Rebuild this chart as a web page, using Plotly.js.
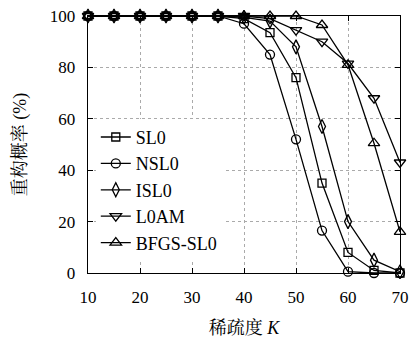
<!DOCTYPE html>
<html>
<head>
<meta charset="utf-8">
<script src="https://cdn.plot.ly/plotly-3.0.1.min.js"></script>
<style>html,body{margin:0;padding:0;background:#fff;}#chart{width:409px;height:338px;}</style>
</head>
<body>
<div id="chart"></div>
<script>
var sparsity = [10, 15, 20, 25, 30, 35, 40, 45, 50, 55, 60, 65, 70];
var sl0    = [100, 100, 100, 100, 100, 100, 99, 93.5, 76, 35, 8, 1, 0];
var nsl0   = [100, 100, 100, 100, 100, 100, 97, 85, 52, 16.5, 0.5, 0, 0];
var isl0   = [100, 100, 100, 100, 100, 100, 99.5, 98, 88, 57, 20, 5, 0.5];
var l0am   = [100, 100, 100, 100, 100, 100, 100, 99, 94.5, 90, 81.5, 68, 43];
var bfgs   = [100, 100, 100, 100, 100, 100, 100, 100, 100, 96.5, 81, 50.5, 16];
var seriesNames = ['SL0', 'NSL0', 'ISL0', 'L0AM', 'BFGS-SL0'];
var xTicks = [10, 20, 30, 40, 50, 60, 70];
var yTicks = [0, 20, 40, 60, 80, 100];

var serif = 'Liberation Serif, DejaVu Serif, Noto Serif CJK SC, Noto Sans CJK SC, serif';
var symbols = ['square-open', 'circle-open', 'diamond-tall-open', 'triangle-down-open', 'triangle-up-open'];
var sizes = [8, 9, 10, 10, 10];
var data = [sl0, nsl0, isl0, l0am, bfgs].map(function (ys, i) {
  return {
    x: sparsity, y: ys, name: seriesNames[i], type: 'scatter', mode: 'lines+markers',
    line: {color: '#000', width: 1.3},
    marker: {symbol: symbols[i], size: sizes[i], color: '#000', line: {color: '#000', width: 1.3}},
    cliponaxis: false
  };
});

var axisCommon = {
  showline: true, linecolor: '#000', linewidth: 1.3, mirror: 'ticks',
  ticks: 'inside', ticklen: 5, tickcolor: '#000', tickwidth: 1,
  showgrid: true, gridcolor: '#aaa', griddash: 'dot', gridwidth: 1,
  zeroline: false, tickfont: {family: serif, size: 17, color: '#000'}
};

var layout = {
  width: 409, height: 338,
  margin: {l: 88, r: 9, t: 16, b: 65},
  paper_bgcolor: '#fff', plot_bgcolor: '#fff',
  font: {family: serif, color: '#000'},
  xaxis: Object.assign({}, axisCommon, {
    range: [10, 70], tickvals: xTicks, ticktext: xTicks.map(String),
    ticklabelstandoff: 8,
    title: {text: '稀疏度 <i>K</i>', font: {family: serif, size: 18, color: '#000'}, standoff: 16}
  }),
  yaxis: Object.assign({}, axisCommon, {
    range: [0, 100], tickvals: yTicks, ticktext: yTicks.map(String),
    ticklabelstandoff: 8,
    title: {text: '重构概率 (%)', font: {family: serif, size: 18, color: '#000'}, standoff: 18}
  }),
  showlegend: true,
  legend: {
    x: 0.025, y: 0.6, xanchor: 'left', yanchor: 'top',
    bgcolor: '#fff', borderwidth: 0,
    font: {family: serif, size: 18, color: '#000'},
    itemwidth: 30
  }
};

Plotly.newPlot('chart', data, layout, {displayModeBar: false, staticPlot: true});
</script>
</body>
</html>
